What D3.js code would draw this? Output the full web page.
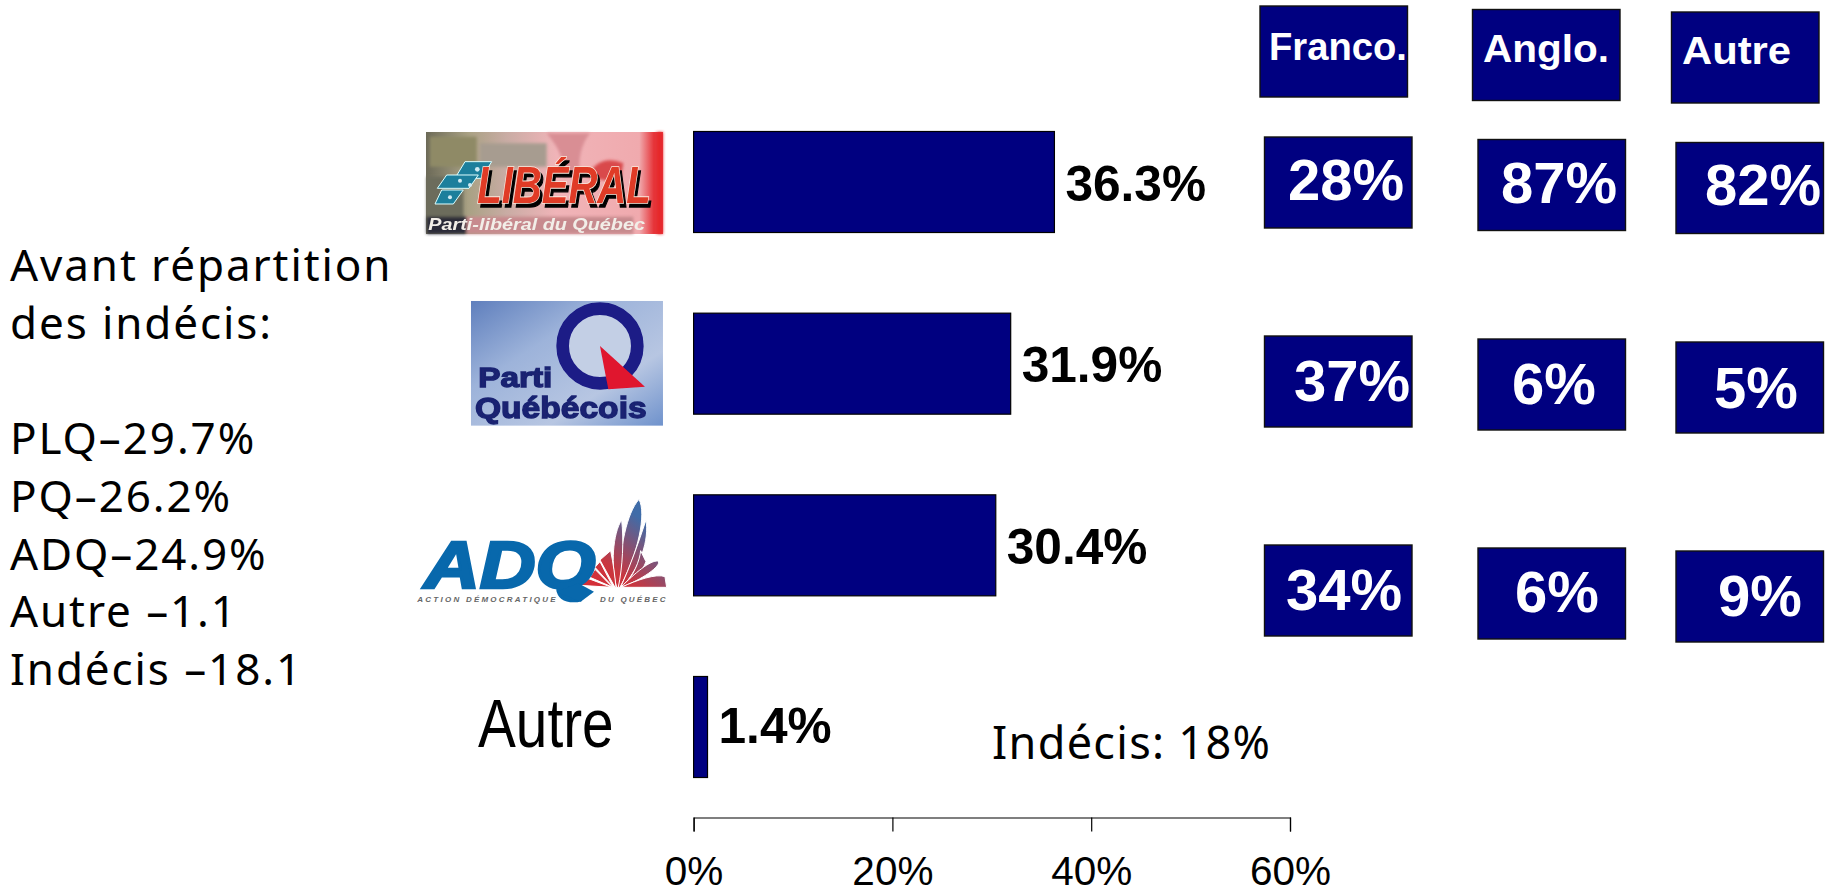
<!DOCTYPE html>
<html lang="fr"><head><meta charset="utf-8">
<style>html,body{margin:0;padding:0;background:#fff}svg{display:block}text{font-family:"Liberation Sans",Arial,sans-serif}</style>
<script src="https://cdn.jsdelivr.net/npm/d3@7/dist/d3.min.js"></script>
</head><body><svg id="c" width="1834" height="890"></svg>
<script>
const parties = ["PLQ","PQ","ADQ","Autre"];
const totals = [36.3,31.9,30.4,1.4];
const groupHeaders = ["Franco.","Anglo.","Autre"];
const francoValues = [28,37,34];
const angloValues = [87,6,6];
const autreValues = [82,5,9];
const axisTicks = [0,20,40,60];
const sideLines = ["Avant répartition","des indécis:","","PLQ–29.7%","PQ–26.2%","ADQ–24.9%","Autre –1.1","Indécis –18.1"];
const undecidedNote = "Indécis: 18%";

const navy="#000080";
const svg=d3.select("#c");
const x=d3.scaleLinear().domain([0,60]).range([693.6,1290]);
const y=d3.scaleBand().domain(parties).range([131.5,777.5]).paddingInner(0.444).paddingOuter(0);
const defs=svg.append("defs");
defs.html(`
<filter id="soft"><feGaussianBlur stdDeviation="1.6"/></filter>
<filter id="soft2"><feGaussianBlur stdDeviation="5"/></filter>
<linearGradient id="libBg" x1="0" x2="1" y1="0" y2="0">
<stop offset="0" stop-color="#6c6a58"/><stop offset=".18" stop-color="#a9a184"/><stop offset=".34" stop-color="#c9aca4"/><stop offset=".55" stop-color="#f0b4b8"/><stop offset=".9" stop-color="#f0aaae"/><stop offset=".96" stop-color="#e6373c"/><stop offset="1" stop-color="#e6373c"/></linearGradient>
<linearGradient id="pqBg" x1="0" x2="1" y1="0" y2="1">
<stop offset="0" stop-color="#5f7fbd"/><stop offset=".35" stop-color="#9db3da"/><stop offset=".7" stop-color="#b7c6e2"/><stop offset="1" stop-color="#6f92cc"/></linearGradient>
<linearGradient id="fan" gradientUnits="userSpaceOnUse" x1="590" y1="320" x2="740" y2="130">
<stop offset="0" stop-color="#d42f38"/><stop offset=".3" stop-color="#c9363f"/><stop offset="1" stop-color="#3f6ca8"/></linearGradient>`);

// bars
svg.append("g").selectAll("rect").data(parties).join("rect")
 .attr("x",x(0)).attr("y",d=>y(d)).attr("width",(d,i)=>x(totals[i])-x(0)).attr("height",y.bandwidth())
 .attr("fill",navy).attr("stroke","#000").attr("stroke-width",1.2);
// bar labels
svg.append("g").selectAll("text").data(parties).join("text")
 .attr("x",(d,i)=>x(totals[i])+11).attr("y",(d,i)=>y(d)+[69,69,69,67][i])
 .attr("font-size",49.6).attr("font-weight","bold").text((d,i)=>totals[i].toFixed(1)+"%");
// axis
const ax=svg.append("g").attr("transform","translate(0,817.5)")
 .call(d3.axisBottom(x).tickValues(axisTicks).tickFormat(d=>d+"%").tickSize(14).tickPadding(25));
ax.selectAll("path,line").attr("stroke","#000").attr("stroke-width",1.2);
ax.selectAll("text").attr("font-size",40.5).attr("fill","#000").style("font-family",'"Liberation Sans",Arial,sans-serif');

// boxes
const boxW=147.5, boxH=91;
const headerPos=[[1260,6],[1472.5,9.5],[1671.5,12]];
const cellPos=[
 [[1264.5,137],[1478,139.5],[1676,142.5]],
 [[1264.5,336],[1478,339],[1676,342]],
 [[1264.5,545],[1478,548],[1676,551]]];
const headerText=[[1269,60],[1483,62],[1682,64]];
const headerFit=[138,126,109];
const cellText=[
 [[1288,200],[1501,203],[1705,205]],
 [[1294,401],[1512,404],[1714,408]],
 [[1286,610],[1515,612],[1718,616]]];
const g=svg.append("g");
g.selectAll("rect.h").data(groupHeaders).join("rect").attr("class","h")
 .attr("x",(d,i)=>headerPos[i][0]).attr("y",(d,i)=>headerPos[i][1]).attr("width",boxW).attr("height",boxH)
 .attr("fill",navy).attr("stroke","#111").attr("stroke-width",1.4);
g.selectAll("text.h").data(groupHeaders).join("text").attr("class","h")
 .attr("x",(d,i)=>headerText[i][0]).attr("y",(d,i)=>headerText[i][1])
 .attr("textLength",(d,i)=>headerFit[i]).attr("lengthAdjust","spacingAndGlyphs")
 .attr("fill","#fff").attr("font-size",39).attr("font-weight","bold").text(d=>d);
const matrix=parties.slice(0,3).map((p,r)=>[francoValues[r],angloValues[r],autreValues[r]]);
matrix.forEach((row,r)=>{
  row.forEach((v,c)=>{
    g.append("rect").attr("x",cellPos[r][c][0]).attr("y",cellPos[r][c][1]).attr("width",boxW).attr("height",boxH)
     .attr("fill",navy).attr("stroke","#111").attr("stroke-width",1.4);
    g.append("text").attr("x",cellText[r][c][0]).attr("y",cellText[r][c][1]).attr("fill","#fff")
     .attr("font-size",58).attr("font-weight","bold").text(v+"%");
  });
});

// side text
svg.append("g").selectAll("text").data(sideLines).join("text")
 .attr("x",10).attr("y",(d,i)=>281+i*57.7)
 .attr("font-size",44).attr("letter-spacing",1.9).style("font-family",'"Noto Sans",sans-serif').attr("fill","#000").text(d=>d);
svg.append("text").attr("x",992).attr("y",759).attr("font-size",45).attr("letter-spacing",1.3).style("font-family",'"Noto Sans",sans-serif').text(undecidedNote);
// Autre row label
svg.append("text").attr("transform","translate(478,747) scale(0.835,1)").attr("font-size",68).text("Autre");

// Logos, in zoom-crop space
const L=svg.append("g").attr("transform","translate(400,110) scale(0.3333)");
L.html(`
<rect x="78" y="66" width="711" height="306" fill="url(#libBg)"/>
<g filter="url(#soft2)">
<path d="M90,80 h140 v90 h-140z" fill="#8f8a66"/>
<path d="M80,200 h110 v170 h-110z" fill="#6c6c5c"/>
<path d="M80,320 h120 v52 h-120z" fill="#2c2c38"/>
<path d="M240,100 h200 v70 h-200z" fill="#a79c90"/>
<path d="M560,200 q40,-70 110,-40 l-10,60z" fill="#d9484c"/>
<path d="M440,70 q60,70 50,130 l50,0 q-10,-80 30,-130z" fill="#d98e94"/>
<path d="M200,320 h500 v52 h-500z" fill="#c78a8e"/>
<path d="M770,66 h19 v306 h-19z" fill="#e6272c"/>
</g>
<g filter="url(#soft)">
<g fill="#1d7f9c" stroke="#dff" stroke-width="3">
<path d="M195,155 h80 l-30,50 h-80z"/>
<path d="M140,195 h95 l-28,40 h-95z"/>
<path d="M125,240 h65 l-30,42 h-55z"/>
</g>
<g fill="#cfeaf2"><circle cx="232" cy="178" r="7"/><circle cx="180" cy="212" r="6"/><circle cx="210" cy="225" r="6"/><circle cx="150" cy="262" r="6"/></g>
<text x="232" y="280" font-size="158" font-weight="bold" font-style="italic" textLength="520" lengthAdjust="spacingAndGlyphs" fill="#000" stroke="#000" stroke-width="4" transform="translate(8,10)">LIBÉRAL</text>
<text x="232" y="280" font-size="158" font-weight="bold" font-style="italic" textLength="520" lengthAdjust="spacingAndGlyphs" fill="#e03a28" stroke="#fbe9dc" stroke-width="5" paint-order="stroke">LIBÉRAL</text>
<text x="85" y="360" font-size="48" font-weight="bold" font-style="italic" textLength="650" lengthAdjust="spacingAndGlyphs" fill="#f2eee8">Parti-libéral du Québec</text>
</g>
<rect x="213" y="573" width="576" height="374" fill="url(#pqBg)"/>
<g filter="url(#soft)">
<circle cx="600" cy="708" r="112" fill="#c3cfe5" stroke="#1a1a86" stroke-width="38"/>
<path d="M600,708 L735,830 L625,838z" fill="#e0122e"/>
<text x="235" y="830" font-size="84" font-weight="bold" fill="#1a2272" stroke="#1a2272" stroke-width="4" textLength="222" lengthAdjust="spacingAndGlyphs">Parti</text>
<text x="225" y="925" font-size="90" font-weight="bold" fill="#1a2272" stroke="#1a2272" stroke-width="4" textLength="515" lengthAdjust="spacingAndGlyphs">Québécois</text>
</g>`);
const A=svg.append("g").attr("transform","translate(400,480) scale(0.3333)");
A.html(`
<g fill="url(#fan)" stroke="#fff" stroke-width="3">
<path d="M655,322 C660,200 680,100 717,58 C740,100 715,220 660,322Z"/>
<path d="M662,322 C690,260 715,190 738,120 C748,180 722,260 666,322Z"/>
<path d="M650,322 C632,260 638,160 665,120 C672,180 668,260 655,322Z"/>
<path d="M645,322 L600,240 L632,212 C640,250 645,290 648,322Z"/>
<path d="M668,322 C700,290 720,240 722,212 L738,245 C725,280 700,305 668,322Z"/>
<path d="M662,322 C705,280 750,240 775,243 C785,258 725,300 662,322Z"/>
<path d="M664,322 C710,300 770,280 795,290 L800,322Z"/>
<path d="M640,322 L585,262 L600,245Z"/>
<path d="M638,322 L570,292 L585,268Z"/>
<path d="M635,322 L540,316 L566,296Z"/>
</g>
<text x="72" y="325" font-size="200" font-weight="bold" font-style="italic" textLength="515" lengthAdjust="spacingAndGlyphs" fill="#0868ac" stroke="#0868ac" stroke-width="8">ADQ</text>
<path d="M470,335 L542,365 L582,335 L535,310Z" fill="#0868ac"/>
<text x="52" y="365" font-size="24" font-weight="bold" font-style="italic" textLength="415" lengthAdjust="spacing" fill="#666">ACTION DÉMOCRATIQUE</text>
<text x="600" y="365" font-size="24" font-weight="bold" font-style="italic" textLength="197" lengthAdjust="spacing" fill="#666">DU QUÉBEC</text>`);
</script></body></html>
